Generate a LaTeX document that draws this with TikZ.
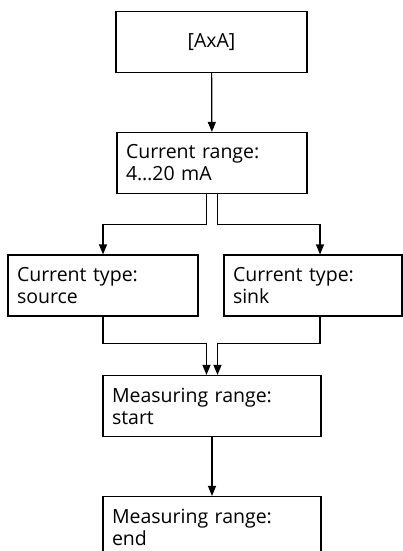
\documentclass[tikz,border=0pt]{standalone}
\usepackage{fontspec}
\setmainfont{Open Sans}
\usetikzlibrary{arrows.meta}
\tikzset{
  box/.style={draw,black,line width=1.2pt,minimum height=61pt,inner xsep=9pt,
    align=left,font=\fontsize{19.5}{22}\selectfont},
  arr/.style={line width=1.2pt,-{Triangle[length=10pt,width=8pt]}},
}
\begin{document}
\begin{tikzpicture}[x=1pt,y=-1pt]
            \useasboundingbox (0,0) rectangle (403,551);
            % Boxes
            \node[box,text width=173pt,align=center] (axa) at (211.5,42) {[AxA]};
            \node[box,text width=172pt] (range) at (212,163) {Current range:\\4\ldots20 mA};
            \node[box,text width=172pt] (source) at (103,285.5) {Current type:\\source};
            \node[box,text width=160pt] (sink) at (313,285.5) {Current type:\\sink};
            \node[box,text width=200pt] (start) at (212,406) {Measuring range:\\start};
            \node[box,text width=200pt] (end) at (212,527) {Measuring range:\\end};
            % Arrows
            \draw[arr] (axa) -- (range);
            \draw[arr] ([xshift=-5.5pt]range.south) -- ++(0,30) -| (source.north);
            \draw[arr] ([xshift=5.5pt]range.south) -- ++(0,30) -| ([xshift=7pt]sink.north);
            \draw[arr] (source.south) -- ++(0,27) -| ([xshift=-5.5pt]start.north);
            \draw[arr] ([xshift=7pt]sink.south) -- ++(0,27) -| ([xshift=5.5pt]start.north);
            \draw[arr] (start) -- (end);
\end{tikzpicture}
\end{document}
